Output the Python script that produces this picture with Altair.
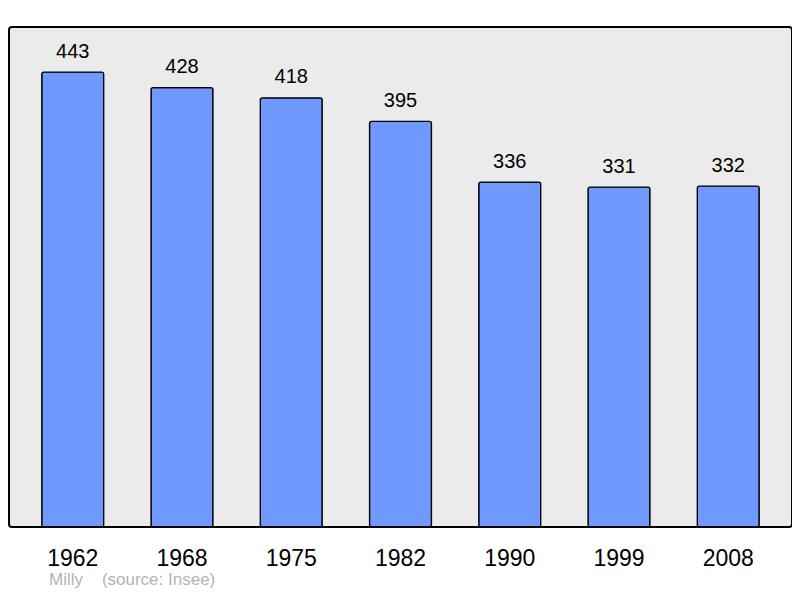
import altair as alt
import pandas as pd

years = ["1962", "1968", "1975", "1982", "1990", "1999", "2008"]
population = [443, 428, 418, 395, 336, 331, 332]
footer = "Milly\u00a0\u00a0\u00a0\u00a0(source: Insee)"

df = pd.DataFrame({"year": years, "pop": population})
FONT = "Liberation Sans"

x = alt.X("year:N", sort=years, title=None,
          scale=alt.Scale(paddingInner=0.433, paddingOuter=0.30),
          axis=alt.Axis(labelAngle=0, domain=False, ticks=False, tickSize=0,
                        labelFontSize=23, labelFont=FONT, labelColor="black",
                        labelBaseline="alphabetic", labelPadding=38, grid=False))
y = alt.Y("pop:Q", scale=alt.Scale(domain=[0, 487], nice=False, zero=True),
          axis=None)

bars = alt.Chart(df).mark_bar(
    color="#7099ff", stroke="black", strokeWidth=1.3, cornerRadius=2
).encode(x=x, y=y)

labels = alt.Chart(df).mark_text(
    baseline="alphabetic", dy=-14.5, fontSize=20, font=FONT, color="black"
).encode(x=x, y=y, text="pop:Q")

foot = alt.Chart(pd.DataFrame({"t": [footer]})).mark_text(
    align="left", baseline="alphabetic", fontSize=17, font=FONT, color="#b4b4b4"
).encode(x=alt.value(40), y=alt.value(558), text="t:N")

chart = alt.layer(bars, labels, foot).properties(
    width=783, height=500,
    autosize=alt.AutoSizeParams(type="none"),
    padding={"left": 1, "top": 19, "right": 0, "bottom": 62},
).configure(
    background="white",
    view=alt.ViewConfig(fill="#ebebeb", stroke="black", strokeWidth=2, cornerRadius=3),
)

chart.save("out.html", embed_options={"renderer": "svg", "actions": False})
